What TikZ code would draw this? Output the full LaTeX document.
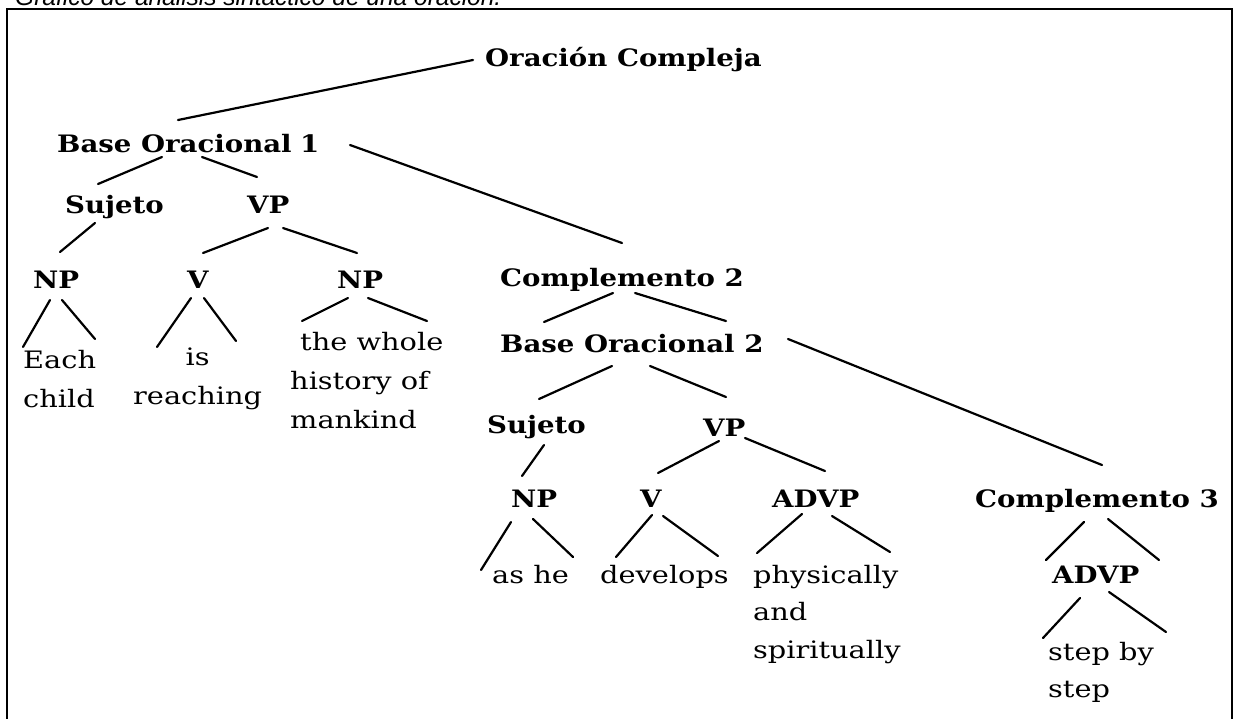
\documentclass[tikz,border=0pt]{standalone}
\usepackage{fontspec}
\usetikzlibrary{calc}
\newfontfamily\treefont[FakeStretch=1.15]{DejaVu Serif}
\newfontfamily\wordfamily[FakeStretch=1.2]{DejaVu Serif}
\newfontfamily\capfamily{Liberation Sans}
\newcommand\labfont{\treefont\bfseries\fontsize{24}{29}\selectfont}
\newcommand\wordfont{\wordfamily\fontsize{24}{39}\selectfont}
\newcommand\capfont{\capfamily\itshape\fontsize{24.5}{28}\selectfont}
\newcommand\lines[1]{\begin{tabular}[t]{@{}l@{}}#1\end{tabular}}
\newcommand\clines[1]{\begin{tabular}[t]{@{}c@{}}#1\end{tabular}}
\begin{document}
\begin{tikzpicture}[x=1pt,y=-1pt,
  lab/.style={anchor=base west,inner sep=0pt,font=\labfont},
  wrd/.style={anchor=base west,inner sep=0pt,font=\wordfont},
  branch/.style={line width=2.2pt,line cap=round}]
\useasboundingbox (0,0) rectangle (1238,718);
\begin{scope}
\clip (0,0) rectangle (1238,718);
% caption above the frame
\node[anchor=base west,inner sep=0pt,font=\capfont] (caption) at (15,5)
  {Gráfico de análisis sintáctico de una oración.};
% frame
\draw[line width=2.2pt] (7,740) -- (7,9) -- (1232,9) -- (1232,740);

% phrase labels
\node[lab] (oc)    at (485,66)  {Oración Compleja};
\node[lab] (bo1)   at (57,152)  {Base Oracional\hspace{0.35em}1};
\node[lab] (suj1)  at (65,213)  {Sujeto};
\node[lab] (vp1)   at (247,213) {VP};
\node[lab] (np1)   at (33,288)  {NP};
\node[lab] (v1)    at (187,288) {V};
\node[lab] (np2)   at (337,288) {NP};
\node[lab] (c2)    at (500,286) {Complemento 2};
\node[lab] (bo2)   at (500,352) {Base Oracional 2};
\node[lab] (suj2)  at (487,433) {Sujeto};
\node[lab] (vp2)   at (703,436) {VP};
\node[lab] (np3)   at (511,507) {NP};
\node[lab] (v2)    at (640,507) {V};
\node[lab] (advp1) at (772,507) {ADVP};
\node[lab] (c3)    at (975,507) {Complemento 3};
\node[lab] (advp2) at (1052,583) {ADVP};

% words
\node[wrd] (w1) at (23,368)  {\lines{Each\\child}};
\node[wrd] (w2) at (133,365) {\clines{is\\reaching}};
\node[wrd] (w3) at (290,350) {\lines{\hspace{10pt}the whole\\history of\\mankind}};
\node[wrd] (w4) at (492,583) {as he};
\node[wrd] (w5) at (600,583) {develops};
\node[wrd,font=\wordfamily\fontsize{24}{37.5}\selectfont] (w6) at (753,583) {\lines{physically\\and\\spiritually}};
\node[wrd,font=\wordfamily\fontsize{24}{37}\selectfont] (w7) at (1048,660) {\lines{step by\\step}};

% branches
\draw[branch] ($(oc.base west)+(-12,-6)$)    -- ($(bo1.base west)+(121,-32)$);
\draw[branch] ($(bo1.base west)+(105,5)$)    -- ($(suj1.base west)+(33,-29)$);
\draw[branch] ($(bo1.base west)+(145,5)$)    -- ($(vp1.base west)+(10,-36)$);
\draw[branch] ($(bo1.base west)+(293,-7)$)   -- ($(c2.base west)+(122,-43)$);
\draw[branch] ($(suj1.base west)+(30,10)$)   -- ($(np1.base west)+(27,-36)$);
\draw[branch] ($(vp1.base west)+(21,15)$)    -- ($(v1.base west)+(16,-35)$);
\draw[branch] ($(vp1.base west)+(36,15)$)    -- ($(np2.base west)+(20,-35)$);
\draw[branch] ($(np1.base west)+(17,12)$)    -- ($(w1.base west)+(0,-21)$);
\draw[branch] ($(np1.base west)+(29,12)$)    -- ($(w1.base west)+(72,-29)$);
\draw[branch] ($(v1.base west)+(4,10)$)      -- ($(w2.base west)+(24,-18)$);
\draw[branch] ($(v1.base west)+(17,10)$)     -- ($(w2.base west)+(103,-24)$);
\draw[branch] ($(np2.base west)+(11,10)$)    -- ($(w3.base west)+(12,-29)$);
\draw[branch] ($(np2.base west)+(31,10)$)    -- ($(w3.base west)+(137,-29)$);
\draw[branch] ($(c2.base west)+(113,7)$)     -- ($(bo2.base west)+(44,-30)$);
\draw[branch] ($(c2.base west)+(135,7)$)     -- ($(bo2.base west)+(226,-31)$);
\draw[branch] ($(bo2.base west)+(288,-13)$)  -- ($(c3.base west)+(127,-42)$);
\draw[branch] ($(bo2.base west)+(112,14)$)   -- ($(suj2.base west)+(52,-34)$);
\draw[branch] ($(bo2.base west)+(150,14)$)   -- ($(vp2.base west)+(23,-39)$);
\draw[branch] ($(suj2.base west)+(57,12)$)   -- ($(np3.base west)+(11,-31)$);
\draw[branch] ($(vp2.base west)+(16,5)$)     -- ($(v2.base west)+(18,-34)$);
\draw[branch] ($(vp2.base west)+(42,2)$)     -- ($(advp1.base west)+(53,-36)$);
\draw[branch] ($(np3.base west)+(0,15)$)     -- ($(w4.base west)+(-11,-13)$);
\draw[branch] ($(np3.base west)+(22,12)$)    -- ($(w4.base west)+(81,-26)$);
\draw[branch] ($(v2.base west)+(12,8)$)      -- ($(w5.base west)+(16,-26)$);
\draw[branch] ($(v2.base west)+(23,9)$)      -- ($(w5.base west)+(118,-27)$);
\draw[branch] ($(advp1.base west)+(30,7)$)   -- ($(w6.base west)+(4,-30)$);
\draw[branch] ($(advp1.base west)+(60,9)$)   -- ($(w6.base west)+(137,-31)$);
\draw[branch] ($(c3.base west)+(109,15)$)    -- ($(advp2.base west)+(-6,-23)$);
\draw[branch] ($(c3.base west)+(133,12)$)    -- ($(advp2.base west)+(107,-23)$);
\draw[branch] ($(advp2.base west)+(28,15)$)  -- ($(w7.base west)+(-5,-22)$);
\draw[branch] ($(advp2.base west)+(57,9)$)   -- ($(w7.base west)+(118,-28)$);
\end{scope}
\end{tikzpicture}
\end{document}
